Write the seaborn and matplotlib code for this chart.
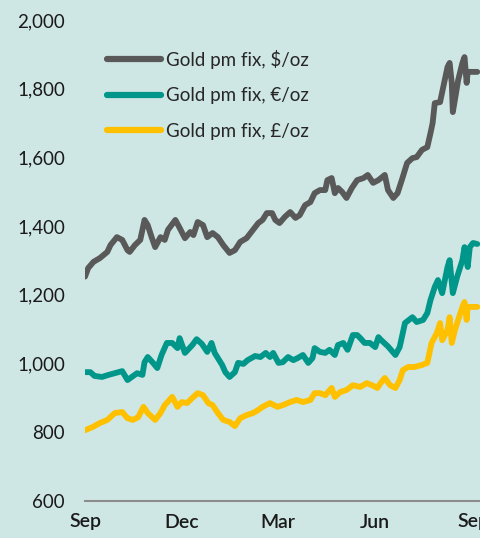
import pandas as pd
import matplotlib
matplotlib.use('Agg')
import matplotlib.pyplot as plt
import matplotlib.dates as mdates
from matplotlib.ticker import FuncFormatter
import seaborn as sns

START = '2010-09-01'

# days since 1 Sep 2010, and the pm fix
days_usd = [0, 3, 8, 14, 21, 24, 30, 35, 40, 42, 47, 52, 56, 59, 63, 66, 71, 75, 78, 85,
            89, 94, 99, 102, 106, 111, 115, 120, 125, 130, 136, 141, 146, 152, 158, 163, 167, 171, 176, 179,
            183, 188, 193, 198, 202, 207, 212, 216, 221, 226, 228, 232, 235, 238, 242, 246, 251, 256, 262, 266,
            271, 276, 282, 285, 290, 294, 298, 303, 308, 312, 317, 322, 325, 327, 329, 334, 337, 341, 343, 345,
            346, 349, 351, 355, 357, 359, 360, 364, 369]
usd = [1253, 1278, 1296, 1307, 1325, 1345, 1368, 1360, 1330, 1325, 1345, 1360, 1418, 1403, 1365, 1339, 1368, 1360, 1389, 1418,
       1395, 1365, 1383, 1374, 1412, 1403, 1368, 1380, 1368, 1345, 1322, 1330, 1354, 1365, 1389, 1409, 1418, 1438, 1438, 1418,
       1409, 1427, 1441, 1424, 1432, 1461, 1470, 1496, 1505, 1505, 1534, 1540, 1496, 1511, 1499, 1482, 1511, 1534, 1540, 1549,
       1526, 1534, 1549, 1505, 1482, 1496, 1534, 1584, 1598, 1601, 1622, 1630, 1671, 1700, 1758, 1761, 1805, 1863, 1875, 1817,
       1732, 1787, 1825, 1875, 1892, 1817, 1849, 1849, 1849]

days_eur = [0, 5, 9, 16, 22, 28, 35, 40, 44, 49, 54, 56, 59, 64, 68, 72, 77, 82, 87, 89,
            94, 101, 105, 110, 115, 119, 122, 125, 129, 132, 136, 141, 144, 149, 153, 160, 165, 170, 174, 177,
            182, 186, 191, 196, 200, 205, 210, 214, 216, 221, 226, 230, 235, 238, 243, 247, 252, 256, 259, 263,
            268, 273, 276, 278, 285, 292, 296, 301, 308, 312, 318, 322, 325, 329, 332, 336, 341, 343, 346, 350,
            355, 357, 360, 362, 365, 369]
eur = [975, 975, 964, 961, 967, 972, 978, 952, 961, 972, 967, 1004, 1019, 1002, 987, 1025, 1060, 1060, 1045, 1074,
       1031, 1054, 1071, 1057, 1034, 1060, 1031, 1016, 996, 975, 961, 975, 1002, 999, 1010, 1022, 1019, 1031, 1019, 1031,
       1002, 1004, 1019, 1010, 1016, 1025, 1002, 1016, 1045, 1034, 1031, 1040, 1025, 1054, 1060, 1040, 1083, 1083, 1074, 1060,
       1060, 1048, 1077, 1070, 1050, 1025, 1048, 1118, 1135, 1121, 1127, 1147, 1185, 1223, 1243, 1205, 1281, 1301, 1205, 1252,
       1301, 1339, 1281, 1339, 1351, 1348]

days_gbp = [0, 7, 14, 21, 28, 35, 40, 45, 50, 55, 59, 66, 71, 75, 82, 87, 91, 96, 101, 106,
            111, 116, 120, 125, 130, 136, 141, 146, 152, 158, 163, 167, 174, 181, 186, 193, 199, 205, 212, 216,
            221, 226, 232, 235, 240, 246, 252, 259, 265, 270, 275, 278, 282, 287, 292, 296, 299, 304, 310, 317,
            322, 326, 331, 334, 336, 341, 343, 345, 348, 351, 355, 357, 359, 360, 365, 369]
gbp = [806, 815, 827, 836, 856, 859, 841, 836, 844, 874, 856, 836, 856, 879, 903, 874, 888, 885, 900, 914,
       908, 885, 879, 856, 836, 830, 818, 841, 850, 856, 865, 874, 885, 874, 879, 888, 894, 888, 894, 914,
       914, 908, 929, 903, 917, 923, 937, 932, 943, 937, 929, 943, 958, 937, 929, 952, 981, 990, 990, 996,
       1002, 1060, 1089, 1118, 1068, 1098, 1135, 1060, 1098, 1127, 1165, 1179, 1127, 1165, 1165, 1165]

labels = ['Gold pm fix, \\$/oz', 'Gold pm fix, €/oz', 'Gold pm fix, £/oz']
colours = ['#595959', '#00968a', '#ffc000']


def to_frame(days, values):
    dates = pd.Timestamp(START) + pd.to_timedelta(days, unit='D')
    return pd.DataFrame({'date': dates, 'price': values})


sns.set_theme(style='white')
plt.rcParams['font.family'] = ['Lato', 'DejaVu Sans']

bg = '#cfe7e4'
fig = plt.figure(figsize=(4.81, 5.38), dpi=100, facecolor=bg)
ax = fig.add_axes([85 / 481, 37 / 538, 396 / 481, 481 / 538])
ax.set_facecolor(bg)

series = [(days_usd, usd), (days_eur, eur), (days_gbp, gbp)]
for (days, vals), colour, label in zip(series, colours, labels):
    sns.lineplot(data=to_frame(days, vals), x='date', y='price', color=colour,
                 linewidth=4.2, label=label, ax=ax,
                 solid_capstyle='round', solid_joinstyle='round')

start = pd.Timestamp(START)
ax.set_xlim(start, start + pd.Timedelta(days=372.5))
ax.set_ylim(600, 2000)
ax.set_yticks(range(600, 2001, 200))
ax.yaxis.set_major_formatter(FuncFormatter(lambda v, p: f'{int(v):,}'))
ax.xaxis.set_major_locator(mdates.MonthLocator(bymonth=[3, 6, 9, 12]))
ax.xaxis.set_major_formatter(mdates.DateFormatter('%b'))
ax.set_xlabel('')
ax.set_ylabel('')

for side in ['top', 'right', 'left']:
    ax.spines[side].set_visible(False)
ax.spines['bottom'].set_color('#8c8c8c')
ax.spines['bottom'].set_linewidth(1.5)

ax.tick_params(axis='x', length=6, width=1.5, color='#8c8c8c', direction='out',
               pad=3, labelsize=14, labelcolor='#1a1a1a')
ax.tick_params(axis='y', length=0, pad=14.5, labelsize=13.5, labelcolor='#1a1a1a')
for lbl in ax.get_xticklabels():
    lbl.set_fontweight('semibold')

leg = ax.legend(loc='upper left', bbox_to_anchor=(107 / 481, 1 - 50 / 538),
                bbox_transform=fig.transFigure, frameon=False, fontsize=13.5,
                handlelength=2.9, handletextpad=0.22, labelspacing=0.98,
                borderpad=0, borderaxespad=0)
for line in leg.get_lines():
    line.set_linewidth(4.5)

fig.savefig('out.png', dpi=100, facecolor=bg)
